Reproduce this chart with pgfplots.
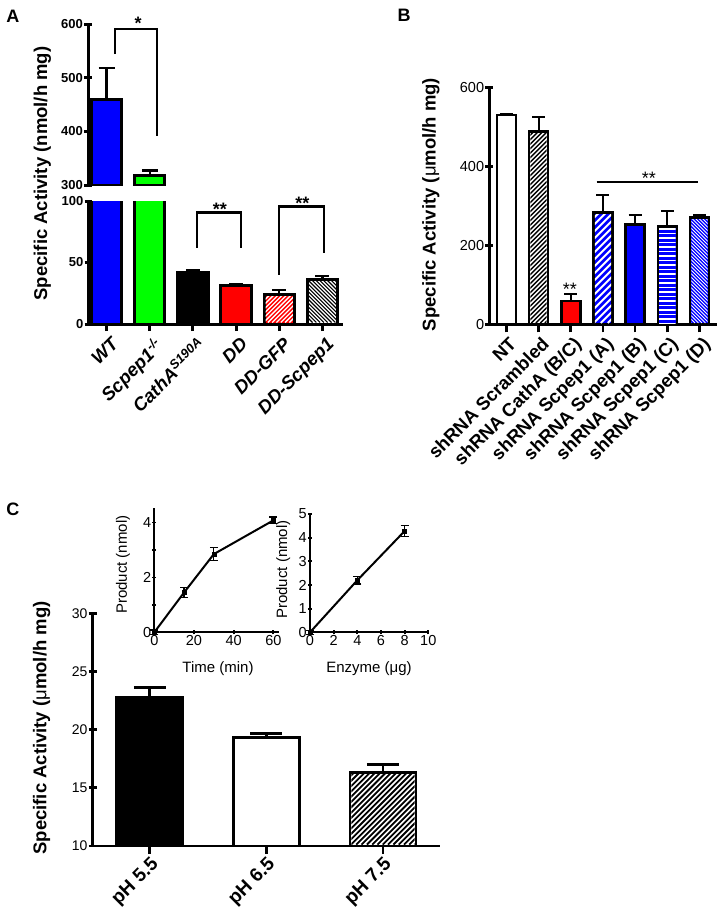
\documentclass[border=0pt]{standalone}
\usepackage{pgfplots}
\pgfplotsset{compat=1.18}
\usepackage{fontspec}
\setmainfont{Liberation Sans}
\newcommand{\fs}[1]{\fontsize{#1}{#1}\selectfont}
\definecolor{mblue}{RGB}{0,0,255}
\definecolor{mgreen}{RGB}{0,255,0}
\definecolor{mred}{RGB}{255,0,0}
\pgfplotsset{
  base/.style={
    scale only axis, anchor=south west,
    tick align=outside,
    /pgf/number format/assume math mode=true,
    clip mode=individual,
  },
  lw/.style={axis line style={-, line width=#1, black}, tick style={line width=#1, black}},
}
% hatch helpers: x1 ytop x2 ybottom (pixels, y downward), colour, period, line width
\newcommand{\hatchNE}[7]{%
  \begin{scope}
  \clip (#1pt,-#2pt) rectangle (#3pt,-#4pt);
  \foreach \k in {0,...,110}{\draw[#5, line width=#7pt] ({(#1-260+\k*#6)*1pt},{-#4pt}) -- ++(260pt,260pt);}
  \end{scope}}
\newcommand{\hatchNW}[7]{%
  \begin{scope}
  \clip (#1pt,-#2pt) rectangle (#3pt,-#4pt);
  \foreach \k in {0,...,110}{\draw[#5, line width=#7pt] ({(#1+\k*#6)*1pt},{-#4pt}) -- ++(-260pt,260pt);}
  \end{scope}}
\newcommand{\hatchH}[7]{%
  \begin{scope}
  \clip (#1pt,-#2pt) rectangle (#3pt,-#4pt);
  \foreach \k in {0,...,40}{\draw[#5, line width=#7pt] (#1pt,{-(#2+1+\k*#6)*1pt}) -- (#3pt,{-(#2+1+\k*#6)*1pt});}
  \end{scope}}
\begin{document}
\begin{tikzpicture}
\useasboundingbox (0pt,0pt) rectangle (722pt,-916pt);

% ---------------- Panel A upper ----------------
\begin{axis}[base, at={(88pt,-185pt)}, width=255pt, height=161pt,
  xmin=-0.434, xmax=5.48, ymin=300, ymax=600,
  axis y line=left, axis x line=none, lw=3pt,
  ytick={300,400,500,600}, xtick=\empty, major tick length=8pt,
  yticklabel style={font=\bfseries\fs{13}, inner sep=1pt},
  ybar, bar shift=0pt, bar width=0.7,
  error bars/error bar style={line width=2.5pt, black},
  error bars/error mark options={rotate=90, line width=2.5pt, mark size=8pt, black},
]
\addplot[draw=black, line width=3pt, fill=mblue, error bars/.cd, y dir=plus, y explicit] coordinates {(0,459) +- (0,59)};
\addplot[draw=black, line width=3pt, fill=mgreen, error bars/.cd, y dir=plus, y explicit] coordinates {(1,317.5) +- (0,9.5)};
\draw[line width=2.5pt] (axis cs:0.19,544) -- (axis cs:0.19,590.7) -- (axis cs:1.17,590.7) -- (axis cs:1.17,391.3);
\node[font=\bfseries\fs{18}] at (axis cs:0.73,602) {*};
\end{axis}

% ---------------- Panel A lower ----------------
\begin{axis}[base, at={(88pt,-324pt)}, width=255pt, height=123pt,
  xmin=-0.434, xmax=5.48, ymin=0, ymax=100,
  axis lines=left, lw=3pt,
  ytick={0,50,100}, xtick={0,...,5}, major tick length=7pt,
  xticklabels={WT, Scpep1\textsuperscript{-/-}, CathA\textsuperscript{S190A}, DD, DD-GFP, DD-Scpep1},
  yticklabel style={font=\bfseries\fs{13}, inner sep=1pt},
  xticklabel style={font=\bfseries\itshape\fs{18.5}, rotate=45, anchor=north east, inner sep=1pt, yshift=-5pt},
  ybar, bar shift=0pt, bar width=0.7,
  error bars/error bar style={line width=2.5pt, black},
  error bars/error mark options={rotate=90, line width=2.5pt, mark size=7pt, black},
]
\addplot[draw=black, line width=3pt, fill=mblue] coordinates {(0,459)};
\addplot[draw=black, line width=3pt, fill=mgreen] coordinates {(1,317.5)};
\addplot[draw=black, line width=3pt, fill=black, error bars/.cd, y dir=plus, y explicit] coordinates {(2,41.8) +- (0,1.6)};
\addplot[draw=black, line width=3pt, fill=mred, error bars/.cd, y dir=plus, y explicit] coordinates {(3,31) +- (0,1.1)};
\addplot[draw=black, line width=3pt, fill=mred, error bars/.cd, y dir=plus, y explicit] coordinates {(4,24) +- (0,3.5)};
\addplot[draw=black, line width=3pt, fill=white, error bars/.cd, y dir=plus, y explicit] coordinates {(5,36.5) +- (0,2.6)};
\draw[line width=2.5pt] (axis cs:2.09,62) -- (axis cs:2.09,90.5) -- (axis cs:3.11,90.5) -- (axis cs:3.11,62);
\draw[line width=2.5pt] (axis cs:4.0,40.1) -- (axis cs:4.0,95.4) -- (axis cs:5.04,95.4) -- (axis cs:5.04,58);
\node[font=\bfseries\fs{18}] at (axis cs:2.625,92.9) {**};
\node[font=\bfseries\fs{18}] at (axis cs:4.54,97.8) {**};
\end{axis}
\hatchNE{265.6}{296.0}{292.8}{322.5}{white}{4.3}{1.3}
\hatchNW{308.7}{280.6}{335.9}{322.5}{black}{3.8}{1.1}

% ---------------- Panel B ----------------
\begin{axis}[base, at={(489.3pt,-324.3pt)}, width=227.3pt, height=236.6pt,
  xmin=-0.53, xmax=6.53, ymin=0, ymax=600,
  axis lines=left, lw=2.6pt,
  ytick={0,200,400,600}, xtick={0,...,6}, major tick length=8pt,
  xticklabels={NT, shRNA Scrambled, shRNA CathA (B/C), shRNA Scpep1 (A), shRNA Scpep1 (B), shRNA Scpep1 (C), shRNA Scpep1 (D)},
  yticklabel style={font=\fs{14.5}, inner sep=1pt},
  xticklabel style={font=\bfseries\fs{18.5}, rotate=45, anchor=north east, inner sep=1pt, yshift=-3pt},
  ybar, bar shift=0pt, bar width=0.59,
  error bars/error bar style={line width=2pt, black},
  error bars/error mark options={rotate=90, line width=2pt, mark size=6.5pt, black},
]
\addplot[draw=black, line width=2.6pt, fill=white, error bars/.cd, y dir=plus, y explicit] coordinates {(0,530.8) +- (0,1.5)};
\addplot[draw=black, line width=2.6pt, fill=white, error bars/.cd, y dir=plus, y explicit] coordinates {(1,488.5) +- (0,38)};
\addplot[draw=black, line width=2.6pt, fill=mred, error bars/.cd, y dir=plus, y explicit] coordinates {(2,59) +- (0,17)};
\addplot[draw=black, line width=2.6pt, fill=mblue, error bars/.cd, y dir=plus, y explicit] coordinates {(3,283) +- (0,46)};
\addplot[draw=black, line width=2.6pt, fill=mblue, error bars/.cd, y dir=plus, y explicit] coordinates {(4,253.6) +- (0,24.4)};
\addplot[draw=black, line width=2.6pt, fill=mblue, error bars/.cd, y dir=plus, y explicit] coordinates {(5,247.5) +- (0,39.5)};
\addplot[draw=black, line width=2.6pt, fill=mblue, error bars/.cd, y dir=plus, y explicit] coordinates {(6,270.4) +- (0,6)};
\draw[line width=2pt] (axis cs:2.80,361.6) -- (axis cs:5.94,361.6);
\node[font=\fs{18}] at (axis cs:4.43,371) {**};
\node[font=\fs{18}] at (axis cs:1.97,89.5) {**};
\end{axis}
\hatchNE{530.4}{133.0}{546.7}{323}{black}{4.5}{1.3}
\hatchNE{594.8}{214.0}{611.1}{323}{white}{7}{2}
\hatchH{659.2}{228.0}{675.5}{323}{white}{4.5}{1.2}
\hatchNW{691.4}{219.0}{707.7}{323}{white}{3.5}{0.9}

% ---------------- Panel C main ----------------
\begin{axis}[base, at={(92.7pt,-846pt)}, width=347.3pt, height=232.7pt,
  xmin=-0.49, xmax=2.49, ymin=10, ymax=30,
  axis lines=left, lw=2.7pt,
  ytick={10,15,20,25,30}, xtick={0,1,2}, major tick length=8pt,
  xticklabels={pH 5.5, pH 6.5, pH 7.5},
  yticklabel style={font=\fs{14}, inner sep=1pt},
  xticklabel style={font=\bfseries\fs{19}, rotate=45, anchor=north east, inner sep=1pt},
  ybar, bar shift=0pt, bar width=0.566,
  error bars/error bar style={line width=2.7pt, black},
  error bars/error mark options={rotate=90, line width=2.7pt, mark size=16pt, black},
]
\addplot[draw=black, line width=2.7pt, fill=black, error bars/.cd, y dir=plus, y explicit] coordinates {(0,22.8) +- (0,0.8)};
\addplot[draw=black, line width=2.7pt, fill=white, error bars/.cd, y dir=plus, y explicit] coordinates {(1,19.3) +- (0,0.4)};
\addplot[draw=black, line width=2.7pt, fill=white, error bars/.cd, y dir=plus, y explicit] coordinates {(2,16.3) +- (0,0.7)};
\end{axis}
\hatchNE{351.3}{774.0}{414.5}{844.6}{black}{5.3}{1.8}

% ---------------- Inset 1 ----------------
\begin{axis}[base, at={(154.3pt,-632.3pt)}, width=125pt, height=124pt,
  xmin=0, xmax=63, ymin=0, ymax=4.52, clip=false,
  axis lines=left, lw=1.8pt,
  xtick={0,20,40,60}, ytick={0,2,4}, minor ytick={1,3},
  major tick length=4pt, minor tick length=4pt,
  ticklabel style={font=\fs{14.5}, inner sep=1pt},
]
\addplot[black, line width=2pt, mark=square*, mark size=2pt, mark options={line width=0.5pt},
  error bars/.cd, y dir=both, y explicit,
  error bar style={line width=1.3pt, black},
  error mark options={rotate=90, line width=1.3pt, mark size=4pt, black}]
  coordinates {(0,0) +- (0,0.08) (15,1.45) +- (0,0.18) (30,2.85) +- (0,0.23) (60,4.08) +- (0,0.12)};
\end{axis}

% ---------------- Inset 2 ----------------
\begin{axis}[base, at={(310pt,-632.3pt)}, width=118.3pt, height=118.3pt,
  xmin=0, xmax=10, ymin=0, ymax=5, clip=false,
  axis lines=left, lw=1.8pt,
  xtick={0,2,...,10}, ytick={0,1,...,5},
  major tick length=4pt,
  ticklabel style={font=\fs{14.5}, inner sep=1pt},
]
\addplot[black, line width=2pt, mark=square*, mark size=2pt, mark options={line width=0.5pt},
  error bars/.cd, y dir=both, y explicit,
  error bar style={line width=1.3pt, black},
  error mark options={rotate=90, line width=1.3pt, mark size=4pt, black}]
  coordinates {(0,0) +- (0,0.08) (4,2.2) +- (0,0.16) (8,4.28) +- (0,0.22)};
\end{axis}

% ---------------- Labels ----------------
\node[font=\bfseries\fs{18}] at (12.8pt,-16.3pt) {A};
\node[font=\bfseries\fs{18}] at (404pt,-15.3pt) {B};
\node[font=\bfseries\fs{18}] at (12.8pt,-509pt) {C};
\node[rotate=90, font=\bfseries\fs{18.5}] at (42.5pt,-173.5pt) {Specific Activity (nmol/h mg)};
\node[rotate=90, font=\bfseries\fs{18.5}] at (431pt,-204.5pt) {Specific Activity ({\mdseries μ}mol/h mg)};
\node[rotate=90, font=\bfseries\fs{18.5}] at (41.7pt,-728pt) {Specific Activity ({\mdseries μ}mol/h mg)};
\node[rotate=90, font=\fs{15}] at (123pt,-564.7pt) {Product (nmol)};
\node[rotate=90, font=\fs{15}] at (283.3pt,-569.5pt) {Product (nmol)};
\node[font=\fs{15}] at (218pt,-669pt) {Time (min)};
\node[font=\fs{15}] at (369pt,-669pt) {Enzyme (μg)};
\end{tikzpicture}
\end{document}
